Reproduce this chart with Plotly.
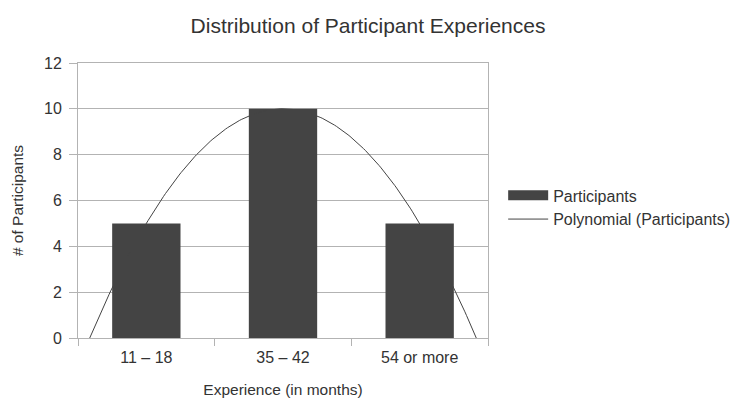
import numpy as np
import plotly.graph_objects as go

categories = ["11 – 18", "35 – 42", "54 or more"]
participants = [5, 10, 5]
y_ticks = [0, 2, 4, 6, 8, 10, 12]

# Polynomial (order 2) trend line fitted to the bar values, like a spreadsheet trendline
xi = np.arange(len(participants))
coef = np.polyfit(xi, participants, 2)
roots = np.sort(np.real(np.roots(coef)))
xt = np.linspace(roots[0], roots[-1], 200)
yt = np.polyval(coef, xt)

bar_color = "#444444"
fig = go.Figure()
fig.add_trace(go.Bar(x=categories, y=participants, name="Participants", showlegend=False,
                     marker=dict(color=bar_color, line=dict(width=0)), width=0.5))
# legend entry with a wide swatch for the bars
fig.add_trace(go.Scatter(x=[None], y=[None], mode="lines", name="Participants",
                         line=dict(color=bar_color, width=10), xaxis="x2"))
fig.add_trace(go.Scatter(x=xt, y=yt, mode="lines", name="Polynomial (Participants)",
                         line=dict(color=bar_color, width=1), xaxis="x2", hoverinfo="skip"))

font = "Liberation Sans, Arial, sans-serif"
fig.update_layout(
    width=736, height=398,
    margin=dict(l=78, r=248, t=63, b=60, autoexpand=False),
    paper_bgcolor="white", plot_bgcolor="white",
    font=dict(family=font, color="#333333", size=16),
    title=dict(text="Distribution of Participant Experiences", x=0.5, xanchor="center",
               y=0.935, yanchor="middle", font=dict(size=21, color="#333333")),
    showlegend=True,
    legend=dict(x=1.037, y=0.475, xanchor="left", yanchor="middle",
                font=dict(size=16, color="#333333"), tracegroupgap=0, itemwidth=40),
    xaxis=dict(type="category", tickson="boundaries", ticks="outside", ticklen=7,
               tickcolor="#b3b3b3", showline=True, linecolor="#b3b3b3", mirror=True,
               showgrid=False, range=[-0.5, 2.5], ticklabelstandoff=5,
               title=dict(text="Experience (in months)", font=dict(size=15.5), standoff=18),
               tickfont=dict(size=16)),
    xaxis2=dict(overlaying="x", range=[-0.5, 2.5], visible=False),
    yaxis=dict(range=[0, 12], tickvals=y_ticks, ticks="outside", ticklen=8,
               tickcolor="#b3b3b3", showline=True, linecolor="#b3b3b3", mirror=True,
               showgrid=True, gridcolor="#b3b3b3", zeroline=False, ticklabelstandoff=4,
               title=dict(text="# of Participants", font=dict(size=15.5), standoff=16),
               tickfont=dict(size=16)),
)
fig.write_html("out.html")
